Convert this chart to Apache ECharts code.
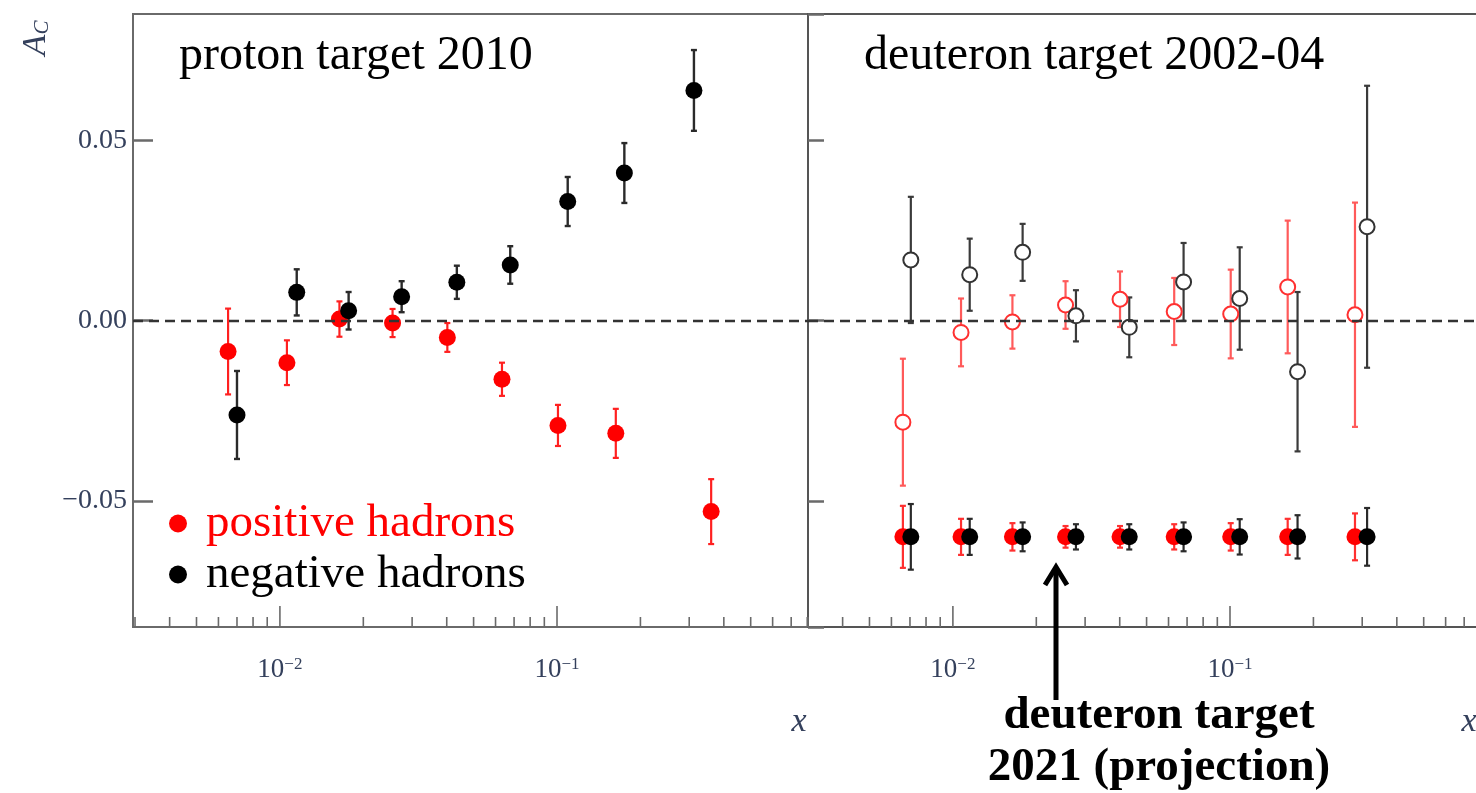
<!DOCTYPE html>
<html><head><meta charset="utf-8">
<script src="https://cdn.jsdelivr.net/npm/echarts@6/dist/echarts.min.js"></script>
<style>html,body{margin:0;padding:0;background:#fff}#c{width:1476px;height:793px}</style>
</head><body><div id="c"></div>
<script>
// ---------- data ----------
const panelTitles = ['proton target 2010', 'deuteron target 2002-04'];
const seriesNames = ['positive hadrons', 'negative hadrons'];

// proton target 2010
const protonPosX   = [0.0065, 0.0106, 0.0164, 0.0255, 0.0402, 0.0633, 0.1008, 0.163, 0.36];
const protonPosY   = [-0.0086, -0.0117, 0.0004, -0.0007, -0.0047, -0.0163, -0.0291, -0.0313, -0.0530];
const protonPosErr = [0.0119, 0.0062, 0.0049, 0.0039, 0.0040, 0.0046, 0.0057, 0.0068, 0.0090];
const protonNegX   = [0.0070, 0.0115, 0.0177, 0.0275, 0.0435, 0.0678, 0.1093, 0.175, 0.312];
const protonNegY   = [-0.0262, 0.0078, 0.0027, 0.0066, 0.0106, 0.0154, 0.0330, 0.0409, 0.0638];
const protonNegErr = [0.0122, 0.0064, 0.0052, 0.0043, 0.0046, 0.0052, 0.0068, 0.0083, 0.0112];

// deuteron target 2002-04
const deutPosX   = [0.0066, 0.0107, 0.0164, 0.0255, 0.0401, 0.0629, 0.1006, 0.1615, 0.2825];
const deutPosY   = [-0.0282, -0.0033, -0.0004, 0.0043, 0.0059, 0.0025, 0.0018, 0.0093, 0.0016];
const deutPosErr = [0.0176, 0.0094, 0.0074, 0.0066, 0.0077, 0.0093, 0.0123, 0.0184, 0.0311];
const deutNegX   = [0.00705, 0.0115, 0.01785, 0.0278, 0.0433, 0.068, 0.1084, 0.1753, 0.3124];
const deutNegY   = [0.0168, 0.0127, 0.0189, 0.0013, -0.0019, 0.0107, 0.0061, -0.0142, 0.0260];
const deutNegErr = [0.0175, 0.0100, 0.0079, 0.0071, 0.0083, 0.0108, 0.0142, 0.0221, 0.0391];

// deuteron target 2021 (projection)
const projY      = [-0.060, -0.060, -0.060, -0.060, -0.060, -0.060, -0.060, -0.060, -0.060];
const projPosErr = [0.0086, 0.0050, 0.0038, 0.0030, 0.0030, 0.0035, 0.0038, 0.0050, 0.0065];
const projNegErr = [0.0091, 0.0050, 0.0040, 0.0035, 0.0035, 0.0040, 0.0049, 0.0060, 0.0080];

// axis ticks
const xTickMajor = [0.01, 0.1];
const xTickMinor = [0.003,0.004,0.005,0.006,0.007,0.008,0.009,
                    0.02,0.03,0.04,0.05,0.06,0.07,0.08,0.09,
                    0.2,0.3,0.4,0.5,0.6,0.7,0.8];
const yLabelValues = [-0.05, 0, 0.05];
const annotationText = ['deuteron target', '2021 (projection)'];

// ---------- styling / layout ----------
const Y_MIN = -0.085, Y_MAX = 0.085;
const SERIF = '"Liberation Serif", "Times New Roman", serif';
const LABEL_COLOR = '#34405c';
const FRAME = '#6a6a6a';

const zip3 = (a, b, c) => a.map((v, i) => [v, b[i], c[i]]);
const zip2 = (a, b) => a.map((v, i) => [v, b[i]]);

function errRender(color, width) {
  return function (params, api) {
    const x = api.value(0), y = api.value(1), e = api.value(2);
    const a = api.coord([x, y + e]), b = api.coord([x, y - e]);
    const c = 3;
    const st = {stroke: color, lineWidth: width};
    return {type: 'group', children: [
      {type: 'line', shape: {x1: a[0], y1: a[1], x2: b[0], y2: b[1]}, style: st},
      {type: 'line', shape: {x1: a[0]-c, y1: a[1], x2: a[0]+c, y2: a[1]}, style: st},
      {type: 'line', shape: {x1: b[0]-c, y1: b[1], x2: b[0]+c, y2: b[1]}, style: st}
    ]};
  };
}
function tickRender(len) {
  return function (params, api) {
    const p = api.coord([api.value(0), Y_MIN]);
    return {type: 'line', shape: {x1: p[0], y1: p[1], x2: p[0], y2: p[1] - len},
            style: {stroke: FRAME, lineWidth: 1.6}};
  };
}
function isPow10(v) { const l = Math.log10(v); return Math.abs(l - Math.round(l)) < 1e-6; }

function xAxisCfg(gi, min, max) {
  return {
    type: 'log', logBase: 10, gridIndex: gi, min: min, max: max,
    axisLine: {show: false}, axisTick: {show: false}, splitLine: {show: false},
    axisLabel: {
      margin: 29, showMinLabel: false, showMaxLabel: false,
      formatter: v => {
        if (!isPow10(v)) return '';
        const l = Math.round(Math.log10(v));
        return '{b|10}{s|' + (l < 0 ? '\u2212' : '') + Math.abs(l) + '}';
      },
      rich: {
        b: {fontFamily: SERIF, fontSize: 27, color: LABEL_COLOR},
        s: {fontFamily: SERIF, fontSize: 17, color: LABEL_COLOR, verticalAlign: 'top'}
      }
    }
  };
}
function yAxisCfg(gi, showLabel, tickLen) {
  return {
    type: 'value', gridIndex: gi, min: Y_MIN, max: Y_MAX, splitNumber: 3,
    axisLine: {show: false}, splitLine: {show: false},
    axisTick: {show: true, inside: true, length: tickLen, lineStyle: {color: FRAME, width: 2.5}},
    axisLabel: {
      show: showLabel, margin: 6, fontFamily: SERIF, fontSize: 28, color: LABEL_COLOR,
      showMinLabel: false, showMaxLabel: false,
      formatter: v => {
        const hit = yLabelValues.find(t => Math.abs(t - v) < 1e-6);
        if (hit === undefined) return '';
        return (hit < 0 ? '\u2212' : '') + Math.abs(hit).toFixed(2);
      }
    }
  };
}

const series = [];
[0, 1].forEach(gi => {
  series.push({type: 'custom', name: 'minor ticks ' + gi, xAxisIndex: gi, yAxisIndex: gi, silent: true, z: 1,
    renderItem: tickRender(10), data: xTickMinor.map(v => [v, Y_MIN])});
  series.push({type: 'custom', name: 'major ticks ' + gi, xAxisIndex: gi, yAxisIndex: gi, silent: true, z: 1,
    renderItem: tickRender(21), data: xTickMajor.map(v => [v, Y_MIN]),
    markLine: {silent: true, symbol: 'none', label: {show: false},
      lineStyle: {color: '#333333', width: 2.3, type: [10, 6]}, data: [{yAxis: 0}]}});
});

// proton panel
series.push({type: 'custom', name: 'pos err p', xAxisIndex: 0, yAxisIndex: 0, z: 2, silent: true,
  renderItem: errRender('#ff2020', 2.2), data: zip3(protonPosX, protonPosY, protonPosErr)});
series.push({type: 'custom', name: 'neg err p', xAxisIndex: 0, yAxisIndex: 0, z: 2, silent: true,
  renderItem: errRender('#2a2a2a', 2.4), data: zip3(protonNegX, protonNegY, protonNegErr)});
series.push({type: 'scatter', name: seriesNames[0], xAxisIndex: 0, yAxisIndex: 0, z: 3,
  symbol: 'circle', symbolSize: 17, itemStyle: {color: '#ff0000', opacity: 1},
  data: zip2(protonPosX, protonPosY)});
series.push({type: 'scatter', name: seriesNames[1], xAxisIndex: 0, yAxisIndex: 0, z: 3,
  symbol: 'circle', symbolSize: 17, itemStyle: {color: '#000000', opacity: 1},
  data: zip2(protonNegX, protonNegY)});

// deuteron panel: 2002-04 (open)
series.push({type: 'custom', name: 'pos err d', xAxisIndex: 1, yAxisIndex: 1, z: 2, silent: true,
  renderItem: errRender('#ff5a5a', 2.2), data: zip3(deutPosX, deutPosY, deutPosErr)});
series.push({type: 'custom', name: 'neg err d', xAxisIndex: 1, yAxisIndex: 1, z: 2, silent: true,
  renderItem: errRender('#3a3a3a', 2.2), data: zip3(deutNegX, deutNegY, deutNegErr)});
series.push({type: 'scatter', name: 'positive hadrons 2002-04', xAxisIndex: 1, yAxisIndex: 1, z: 3,
  symbol: 'circle', symbolSize: 15, itemStyle: {color: '#ffffff', borderColor: '#ff3030', borderWidth: 2, opacity: 1},
  data: zip2(deutPosX, deutPosY)});
series.push({type: 'scatter', name: 'negative hadrons 2002-04', xAxisIndex: 1, yAxisIndex: 1, z: 3,
  symbol: 'circle', symbolSize: 15, itemStyle: {color: '#ffffff', borderColor: '#333333', borderWidth: 2, opacity: 1},
  data: zip2(deutNegX, deutNegY)});

// deuteron panel: 2021 projection (filled)
series.push({type: 'custom', name: 'pos err proj', xAxisIndex: 1, yAxisIndex: 1, z: 2, silent: true,
  renderItem: errRender('#ff3030', 2.2), data: zip3(deutPosX, projY, projPosErr)});
series.push({type: 'custom', name: 'neg err proj', xAxisIndex: 1, yAxisIndex: 1, z: 2, silent: true,
  renderItem: errRender('#2a2a2a', 2.2), data: zip3(deutNegX, projY, projNegErr)});
series.push({type: 'scatter', name: 'positive hadrons 2021', xAxisIndex: 1, yAxisIndex: 1, z: 3,
  symbol: 'circle', symbolSize: 17, itemStyle: {color: '#ff0000', opacity: 1},
  data: zip2(deutPosX, projY)});
series.push({type: 'scatter', name: 'negative hadrons 2021', xAxisIndex: 1, yAxisIndex: 1, z: 4,
  symbol: 'circle', symbolSize: 17, itemStyle: {color: '#000000', opacity: 1},
  data: zip2(deutNegX, projY)});

const option = {
  animation: false,
  backgroundColor: '#ffffff',
  grid: [
    {left: 133, top: 14, width: 675, height: 613, show: true, borderColor: FRAME, borderWidth: 2,
     containLabel: false, outerBoundsMode: 'none'},
    {left: 808, top: 14, width: 673, height: 613, show: true, borderColor: '#555', borderWidth: 2,
     containLabel: false, outerBoundsMode: 'none'}
  ],
  xAxis: [xAxisCfg(0, 0.00295, 0.805), xAxisCfg(1, 0.003, 0.805)],
  yAxis: [yAxisCfg(0, true, 20), yAxisCfg(1, false, 16)],
  title: [
    {text: panelTitles[0], left: 179, top: 32, padding: 0,
     textStyle: {fontFamily: SERIF, fontSize: 48, fontWeight: 'normal', color: '#000'}},
    {text: panelTitles[1], left: 864, top: 32, padding: 0,
     textStyle: {fontFamily: SERIF, fontSize: 48, fontWeight: 'normal', color: '#000'}}
  ],
  legend: {
    left: 169, top: 500, orient: 'vertical', itemGap: 4, icon: 'circle',
    itemWidth: 18, itemHeight: 18, selectedMode: false, padding: 0,
    textStyle: {fontFamily: SERIF, fontSize: 47, padding: [0, 0, 0, 14]},
    data: [
      {name: seriesNames[0], textStyle: {color: '#ff0000'}},
      {name: seriesNames[1], textStyle: {color: '#000000'}}
    ]
  },
  graphic: [
    {type: 'text', x: 36, y: 38, rotation: Math.PI / 2,
     style: {text: '{a|A}{c|C}', align: 'center', verticalAlign: 'middle',
       rich: {a: {fontFamily: SERIF, fontStyle: 'italic', fontSize: 34, fill: LABEL_COLOR},
              c: {fontFamily: SERIF, fontStyle: 'italic', fontSize: 21, fill: LABEL_COLOR, verticalAlign: 'bottom'}}}},
    {type: 'text', x: 799, y: 722,
     style: {text: 'x', align: 'center', verticalAlign: 'middle',
       font: 'italic 34px ' + SERIF, fill: LABEL_COLOR}},
    {type: 'text', x: 1469, y: 722,
     style: {text: 'x', align: 'center', verticalAlign: 'middle',
       font: 'italic 34px ' + SERIF, fill: LABEL_COLOR}},
    {type: 'line', shape: {x1: 1056, y1: 700, x2: 1056, y2: 568}, style: {stroke: '#000', lineWidth: 5}},
    {type: 'polyline', shape: {points: [[1045, 585], [1056, 567], [1067, 585]]},
     style: {stroke: '#000', lineWidth: 5, fill: null}},
    {type: 'text', x: 1159, y: 690,
     style: {text: annotationText.join('\n'), align: 'center', verticalAlign: 'top',
       font: 'bold 47px ' + SERIF, lineHeight: 52, fill: '#000'}}
  ],
  series: series
};

const chart = echarts.init(document.getElementById('c'), null, {renderer: 'canvas'});
chart.setOption(option);
</script>
</body></html>
